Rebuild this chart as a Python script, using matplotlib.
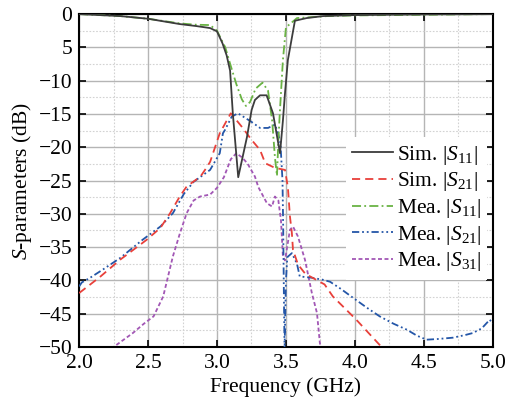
import numpy as np
import matplotlib.pyplot as plt
from matplotlib.ticker import MultipleLocator

plt.rcParams.update({
    "font.family": "serif",
    "font.serif": ["Liberation Serif"],
    "mathtext.fontset": "custom",
    "mathtext.rm": "Liberation Serif",
    "mathtext.it": "Liberation Serif:italic",
    "axes.unicode_minus": True,
})

# Sim. |S11|
f_s11_sim = [2.0, 2.3, 2.5, 2.73, 2.85, 2.95, 3.0, 3.04, 3.07, 3.095, 3.115, 3.154,
             3.217, 3.251, 3.275, 3.312, 3.36, 3.406, 3.457, 3.478, 3.493, 3.514,
             3.565, 3.65, 3.77, 4.0, 4.5, 5.0]
s11_sim = [0.0, -0.3, -0.7, -1.5, -1.8, -2.1, -2.6, -4.4, -6.2, -8.5, -15.0, -24.5,
           -18.5, -14.4, -12.9, -12.2, -12.2, -14.9, -20.9, -16.0, -11.9, -6.9,
           -1.0, -0.6, -0.3, -0.15, -0.05, 0.0]

# Sim. |S21|
f_s21_sim = [2.0, 2.15, 2.297, 2.49, 2.59, 2.66, 2.73, 2.78, 2.88, 2.913, 2.95, 3.02,
             3.10, 3.179, 3.251, 3.312, 3.35, 3.42, 3.493, 3.514, 3.529, 3.543, 3.551,
             3.587, 3.64, 3.78, 3.84, 4.01, 4.18, 4.21]
s21_sim = [-41.9, -39.5, -36.9, -33.9, -32.1, -29.9, -27.4, -25.9, -24.4, -23.4, -22.2, -17.9,
           -14.9, -16.9, -18.9, -20.4, -22.4, -23.1, -23.4, -26.0, -30.4, -32.9, -35.4,
           -37.6, -39.0, -40.6, -42.4, -45.9, -49.7, -50.5]

# Mea. |S11|
f_s11_mea = [2.0, 2.3, 2.5, 2.73, 2.85, 2.95, 3.0, 3.06, 3.1, 3.14, 3.18, 3.21, 3.24,
             3.28, 3.33, 3.37, 3.40, 3.42, 3.435, 3.445, 3.455, 3.478, 3.50, 3.58,
             3.8, 4.0, 4.5, 5.0]
s11_mea = [0.0, -0.3, -0.7, -1.4, -1.6, -1.65, -2.5, -5.0, -7.8, -10.5, -12.8, -13.8, -13.2,
           -11.2, -10.3, -11.5, -16.0, -21.5, -24.3, -19.0, -15.0, -6.9, -2.0, -0.6,
           -0.3, -0.2, -0.1, 0.0]

# Mea. |S21|
f_s21_mea = [2.0, 2.02, 2.08, 2.17, 2.3, 2.46, 2.59, 2.68, 2.76, 2.83, 2.95, 3.02, 3.043,
             3.058, 3.107, 3.152, 3.251, 3.312, 3.37, 3.42, 3.442, 3.46, 3.475, 3.48,
             3.485, 3.49, 3.495, 3.50, 3.51, 3.543, 3.58, 3.60, 3.688, 3.768, 3.82,
             3.9, 3.986, 4.08, 4.18, 4.28, 4.377, 4.45, 4.52, 4.6, 4.71, 4.8, 4.855,
             4.92, 4.978, 5.0]
s21_mea = [-40.9, -40.3, -39.6, -38.4, -36.6, -33.9, -31.9, -29.9, -27.0, -25.2, -23.4, -20.9, -17.9,
           -17.4, -15.4, -14.9, -16.2, -17.1, -17.1, -16.6, -17.8, -19.4, -25.0, -32.0,
           -42.0, -50.5, -45.0, -40.0, -36.5, -35.9, -37.5, -39.4, -39.6, -39.9, -40.2,
           -41.3, -42.6, -44.0, -45.4, -46.5, -47.4, -48.3, -48.9, -48.8, -48.6, -48.2, -47.9,
           -47.2, -45.9, -46.5]

# Mea. |S31|
f_s31_mea = [2.2, 2.25, 2.39, 2.47, 2.54, 2.61, 2.68, 2.73, 2.78, 2.83, 2.877, 2.95, 3.0,
             3.05, 3.1, 3.14, 3.18, 3.22, 3.275, 3.30, 3.362, 3.399, 3.42, 3.445, 3.464,
             3.478, 3.493, 3.529, 3.551, 3.587, 3.638, 3.688, 3.725, 3.746, 3.76]
s31_mea = [-51.0, -50.0, -47.9, -46.5, -45.4, -42.4, -36.4, -33.0, -29.9, -28.0, -27.4, -27.1, -26.1,
           -24.5, -21.8, -20.9, -21.5, -22.4, -24.4, -26.0, -28.4, -28.9, -27.4, -28.0, -31.0,
           -36.4, -37.0, -32.4, -31.9, -33.4, -36.9, -41.9, -44.9, -49.4, -51.0]

xticks = [2.0, 2.5, 3.0, 3.5, 4.0, 4.5, 5.0]
yticks = [0, -5, -10, -15, -20, -25, -30, -35, -40, -45, -50]
ytick_labels = ['0', '5', '\u221210', '\u221215', '\u221220', '\u221225', '\u221230',
                '\u221235', '\u221240', '\u221245', '\u221250']

fig = plt.figure(figsize=(5.07, 4.07), dpi=100)
ax = fig.add_axes([0.156, 0.1474, 0.816, 0.818])

lw = 1.3
ax.plot(f_s11_sim, s11_sim, color='#3c3c3c', lw=lw, ls='-', label=r'Sim. $|S_{11}|$', zorder=6)
ax.plot(f_s21_sim, s21_sim, color='#e8403a', lw=lw, ls=(0, (4.5, 2.8)), label=r'Sim. $|S_{21}|$', zorder=4)
ax.plot(f_s11_mea, s11_mea, color='#6ab344', lw=lw, ls=(0, (5, 1.8, 1, 1.8)), label=r'Mea. $|S_{11}|$', zorder=5)
ax.plot(f_s21_mea, s21_mea, color='#2456a8', lw=lw, ls=(0, (4, 1.6, 1, 1.6, 1, 1.6)), label=r'Mea. $|S_{21}|$', zorder=3)
ax.plot(f_s31_mea, s31_mea, color='#a257b5', lw=lw, ls=(0, (2.2, 1.4)), label=r'Mea. $|S_{31}|$', zorder=2)

ax.set_xlim(2.0, 5.0)
ax.set_ylim(-50, 0)
ax.set_xticks(xticks)
ax.set_xticklabels(['%.1f' % x for x in xticks])
ax.set_yticks(yticks)
ax.set_yticklabels(ytick_labels)
ax.xaxis.set_minor_locator(MultipleLocator(0.25))
ax.yaxis.set_minor_locator(MultipleLocator(2.5))

ax.grid(which='major', color='#b5b5b5', lw=1.0, ls='-')
ax.grid(which='minor', color='#d2d2d2', lw=0.8, ls=(0, (1.5, 1.5)))
ax.set_axisbelow(True)

ax.tick_params(which='major', direction='in', length=5, width=1.2, color='k',
               top=True, right=True, labelsize=15.5, pad=5)
ax.tick_params(which='minor', length=0)
for spine in ax.spines.values():
    spine.set_linewidth(1.5)
    spine.set_color('k')

ax.set_xlabel('Frequency (GHz)', fontsize=15.5, labelpad=3)
ax.set_ylabel(r'$S$-parameters (dB)', fontsize=15.5, labelpad=3)

leg = ax.legend(loc='upper left', bbox_to_anchor=(0.645, 0.63), fontsize=15.5,
                handlelength=1.9, handletextpad=0.15, labelspacing=0.17,
                borderpad=0.3, borderaxespad=0, frameon=True, fancybox=False,
                framealpha=1.0, facecolor='white', edgecolor='none')
leg.set_zorder(10)

plt.savefig('out.png', dpi=100)
